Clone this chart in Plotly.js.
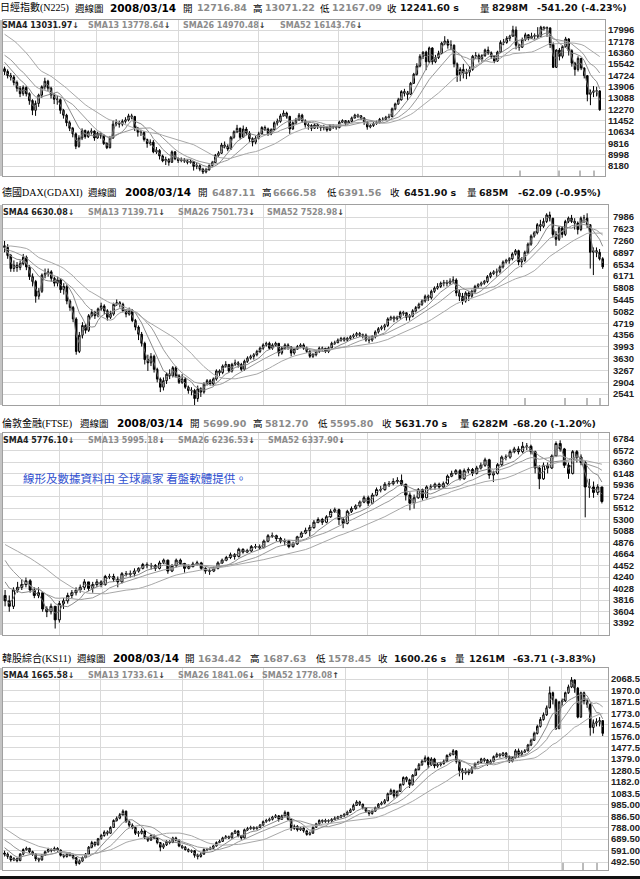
<!DOCTYPE html>
<html><head><meta charset="utf-8">
<script src="https://cdn.plot.ly/plotly-3.0.1.min.js"></script>
<style>html,body{margin:0;padding:0;background:#fff;}#chart{width:640px;height:879px;}</style>
</head><body><div id="chart"></div>
<script>
// ---------------- DATA (bi-weekly candles) ----------------
// Nikkei 225: index 0 = 2000-11-03 ... 192 = 2008-03-14
const n225Pre = [18200,18500,18400,18750,18700,19000,19800,19900,19800,20000,20300,20500,19000,17000,16800,16800,17200,17300,16400,16100,16600,16300,15800,15700,15200,15100];
const n225Open0 = 15200;
const n225Close = [15000,14700,14600,14200,13790,13400,13850,13400,12900,12200,
12700,13300,13900,14300,13800,13300,13000,12970,12200,11850,
11300,10900,10500,9600,10200,10750,10300,10650,10700,10200,
10540,10400,9800,9500,10200,11200,11300,11200,11400,11500,
11800,11750,10900,10620,10600,10100,9800,9900,9200,9300,
8900,8550,8650,8450,9200,8700,8580,8600,8550,8450,
8500,8150,8200,7950,7750,7900,8200,8420,8950,9100,
9700,9600,9400,10250,10650,10900,10250,10850,10560,10150,
9900,10200,10500,10960,10850,10500,10800,11300,11400,11800,
12000,11760,10850,11300,11500,11850,11450,11150,11100,10900,
11150,11000,10950,11000,10770,11100,11000,10950,11350,11450,
11250,11400,11650,11850,11800,11650,11350,11000,11100,11250,
11300,11550,11550,11700,11750,12300,12650,12950,13550,13450,
13350,14150,14800,15400,16100,16400,15700,16700,15700,16000,
16300,17050,17200,16900,16900,15550,14750,15150,14850,14950,
15150,16100,16150,15900,16150,16550,16350,16100,15750,16400,
17100,17100,17400,17550,18000,16900,16750,17300,17650,17400,
17550,17600,17550,18200,18100,18150,16950,15300,16550,16100,
16800,17350,16500,15600,15150,15950,15250,14700,13350,13500,
13600,13600,12241.6];
const n225High = [15350,15150,14900,14750,14350,13950,14000,13950,13500,13000,
12900,13400,14000,14550,14400,13900,13450,13250,13050,12300,
11950,11450,11000,10600,10400,10900,10800,10750,10900,10750,
10650,10650,10450,9900,10350,11500,11550,11450,11550,11700,
11950,11950,11800,11000,10800,10700,10150,10100,10050,9550,
9400,9000,8850,8750,9300,9250,8800,8800,8750,8650,
8650,8550,8400,8300,8050,8050,8300,8550,9050,9250,
9850,9950,9750,10350,10750,11150,10950,11100,11000,10700,
10250,10350,10650,11050,11100,10950,10900,11400,11600,11950,
12200,12100,11800,11400,11650,12000,11950,11550,11300,11200,
11250,11250,11100,11150,11050,11200,11200,11100,11450,11550,
11500,11500,11750,11950,11950,11850,11700,11400,11200,11350,
11450,11650,11700,11800,11950,12400,12750,13100,13650,13750,
13600,14250,14900,15600,16250,16450,16500,16800,16750,16200,
16500,17150,17550,17350,17250,16950,15650,15300,15550,15200,
15400,16200,16400,16300,16250,16650,16800,16450,16150,16500,
17250,17350,17550,17650,18300,18250,17000,17450,17800,17700,
17800,17750,18200,18300,18250,18250,18100,17100,16600,16700,
16900,17500,17400,16600,15700,16100,15950,15300,14750,13700,
13950,13900,13650];
const n225Low = [14750,14500,14350,14000,13550,13150,13250,13200,12600,11850,
11800,12450,13100,13700,13600,13050,12650,12600,11950,11600,
11050,10700,10250,9400,9500,10050,10150,10200,10450,10000,
10150,10150,9700,9400,9450,10150,11050,10950,11050,11250,
11400,11550,10700,10300,10350,9950,9500,9650,9100,9050,
8650,8450,8250,8200,8400,8600,8400,8450,8400,8300,
8350,7850,7950,7800,7600,7650,7850,8150,8400,8850,
9050,9450,9250,9350,10150,10550,10100,10200,10400,9900,
9600,9750,10100,10450,10700,10350,10400,10700,11100,11300,
11750,11600,10500,10800,11200,11450,11300,10950,10800,10700,
10850,10850,10700,10750,10650,10700,10850,10800,10900,11300,
11100,11200,11350,11600,11650,11500,11150,10800,10900,11000,
11150,11250,11400,11500,11600,11700,12200,12600,12900,13200,
12950,13300,14100,14700,15300,15900,15100,15600,15500,15600,
15900,16250,16900,16650,16550,15300,14250,14300,14500,14450,
14650,15050,15900,15650,15700,16050,16200,15900,15600,15700,
16350,16900,17000,17200,17500,16600,16500,16700,17200,17250,
17350,17350,17400,17500,17950,17500,16700,15250,15250,15800,
15950,16700,16150,15350,14700,15000,15100,14500,12850,12570,
13150,13200,12167];
const n225Ticks = ['17996','17178','16360','15542','14724','13906','13088','12270','11452','10634','9816','8998','8180'];
const n225Quote = ['12716.84','13071.22','12167.09','12241.60','8298M','-541.20 (-4.23%)'];
const n225SmaVal = ['13031.97','13778.64','14970.48','16143.76'];
const n225SmaDir = ['↓','↓','↓','↓'];

// DAX: same dates as Nikkei
const daxPre = [5700,5900,6200,6600,6950,6900,7000,7200,7500,7700,7900,7600,7400,7300,7100,7000,6900,6950,7200,7300,7200,7300,6900,6700,6600,7000];
const daxOpen0 = 7100;
const daxClose = [7050,6800,6400,6500,6430,6550,6750,6450,6150,6000,
5550,5700,6200,6250,6300,6100,5950,6050,5750,5850,
5400,5200,4850,3850,4350,4650,4500,4950,5050,4950,
5160,5250,5100,4900,5000,5300,5350,5300,5100,5000,
5100,4800,4600,4380,4100,3600,3500,3700,3300,3000,
2750,2950,3150,3100,3350,3100,2900,3000,2750,2650,
2650,2400,2700,2600,2850,2950,2850,3000,3250,3200,
3400,3450,3250,3450,3500,3450,3300,3550,3650,3700,
3750,3850,3950,4050,4100,3950,4050,4100,3800,3950,
4050,3990,3800,3920,4000,4050,3950,3850,3700,3750,
3850,3950,3950,3850,3960,4100,4120,4200,4250,4200,
4250,4300,4350,4400,4350,4350,4200,4200,4300,4450,
4550,4600,4650,4850,4900,4850,4900,5050,5040,4900,
4930,5100,5200,5300,5400,5550,5500,5700,5800,5850,
5950,5970,5950,6010,6050,5650,5550,5400,5650,5550,
5700,5850,5900,5950,6000,6150,6250,6300,6300,6450,
6600,6650,6700,6850,6950,6600,6650,6900,7150,7400,
7500,7750,7700,7850,8050,7950,7450,7300,7650,7450,
7850,7950,7850,7800,7600,7950,7950,7750,6900,6950,
6900,6700,6451.9];
const daxHigh = [7250,7150,6850,6650,6600,6650,6850,6800,6500,6250,
6050,5800,6250,6400,6400,6350,6150,6150,6100,5950,
5900,5450,5250,4900,4450,4750,4700,5000,5150,5100,
5200,5350,5300,5150,5100,5350,5450,5400,5350,5150,
5200,5150,4850,4650,4450,4150,3750,3800,3750,3350,
3050,3050,3200,3300,3400,3400,3150,3150,3050,2800,
2750,2700,2800,2750,2900,3000,3000,3050,3300,3300,
3450,3550,3450,3500,3600,3550,3500,3600,3700,3750,
3800,3900,4000,4100,4150,4150,4100,4150,4100,4000,
4100,4100,4000,3950,4050,4100,4100,4000,3900,3800,
3900,4000,4000,3950,4000,4150,4180,4250,4300,4300,
4300,4350,4400,4450,4450,4400,4400,4300,4350,4500,
4600,4650,4700,4900,4950,4950,4950,5100,5100,5050,
5000,5150,5250,5350,5450,5600,5600,5750,5850,5950,
6000,6050,6050,6100,6160,6100,5750,5650,5700,5700,
5750,5900,5950,6000,6050,6200,6300,6350,6400,6500,
6650,6700,6750,6900,7000,6980,6750,6950,7200,7450,
7550,7800,7900,7950,8100,8150,7950,7550,7700,7700,
7900,8000,8050,7950,7850,8000,8050,8100,7750,7050,
7050,7000,6750];
const daxLow = [6900,6700,6300,6300,6300,6350,6500,6350,6050,5850,
5350,5450,5650,6100,6150,6000,5850,5850,5650,5600,
5300,5100,4750,3750,3800,4250,4400,4450,4900,4850,
4900,5100,5000,4800,4850,4950,5250,5200,5050,4900,
4950,4750,4500,4200,4000,3450,3250,3400,3200,2900,
2600,2650,2850,3000,3050,3050,2850,2850,2700,2550,
2500,2200,2300,2450,2550,2800,2800,2800,2950,3100,
3150,3350,3200,3200,3400,3350,3250,3250,3500,3600,
3600,3700,3800,3900,4000,3900,3900,4000,3700,3750,
3900,3900,3700,3750,3900,3950,3900,3800,3650,3650,
3700,3800,3850,3800,3800,3950,4050,4100,4150,4150,
4150,4200,4250,4300,4300,4250,4150,4100,4150,4250,
4400,4500,4500,4600,4800,4750,4800,4850,4950,4800,
4800,4900,5050,5150,5250,5350,5400,5450,5650,5750,
5800,5850,5850,5900,5950,5550,5400,5290,5350,5400,
5500,5650,5800,5850,5900,5950,6100,6200,6150,6250,
6400,6550,6550,6650,6800,6500,6440,6600,6850,7100,
7350,7450,7550,7650,7800,7850,7350,7100,7250,7350,
7400,7800,7800,7600,7450,7550,7800,7650,6400,6200,
6750,6650,6390];
const daxTicks = ['7986','7623','7260','6897','6534','6171','5808','5445','5082','4719','4356','3993','3630','3267','2904','2541'];
const daxQuote = ['6487.11','6666.58','6391.56','6451.90','685M','-62.09 (-0.95%)'];
const daxSmaVal = ['6630.08','7139.71','7501.73','7528.98'];
const daxSmaDir = ['↓','↓','↓','↓'];

// FTSE: index 0 = 2002-09-20 ... 143 = 2008-03-14
const ftsePre = [4800,4900,5000,5100,5200,5150,5200,5217,5150,5100,5050,5100,5250,5270,5200,5150,5100,5050,4900,4650,4500,4200,4300,4250,4100,3900];
const ftseOpen0 = 3900;
const ftseClose = [3800,3700,4000,4050,4100,4170,4000,3900,3950,3650,
3600,3700,3450,3750,3800,3900,3950,4000,4050,4150,
4030,4100,4150,4100,4250,4250,4200,4150,4300,4290,
4300,4350,4400,4470,4450,4450,4400,4500,4550,4350,
4450,4550,4490,4400,4430,4480,4500,4400,4350,4350,
4400,4500,4550,4600,4650,4620,4750,4700,4720,4800,
4800,4780,4900,5000,5000,4950,4900,4900,4800,4850,
4980,5050,5100,5150,5250,5300,5250,5350,5450,5480,
5300,5230,5450,5500,5550,5620,5700,5600,5750,5850,
5850,5950,5960,6000,6020,5950,5750,5600,5700,5850,
5700,5900,5900,5950,5900,5960,6100,6150,6200,6050,
6200,6220,6150,6250,6300,6400,6120,6150,6310,6450,
6450,6550,6600,6550,6650,6650,6550,6250,6050,6300,
6250,6470,6700,6600,6300,6150,6550,6450,6350,5900,
5900,5800,5900,5631.7];
const ftseHigh = [4000,3900,4050,4150,4200,4230,4200,4050,4050,3950,
3700,3750,3700,3800,3850,3950,4000,4050,4100,4200,
4150,4150,4200,4180,4280,4300,4300,4250,4330,4350,
4360,4400,4420,4500,4510,4500,4480,4540,4580,4560,
4480,4580,4580,4500,4470,4520,4540,4520,4420,4400,
4430,4530,4580,4630,4690,4680,4780,4770,4760,4830,
4850,4840,4930,5030,5060,5020,4980,4950,4920,4890,
5000,5080,5150,5200,5290,5340,5330,5380,5490,5520,
5500,5340,5480,5540,5580,5650,5740,5740,5790,5890,
5920,5990,6010,6060,6080,6130,5960,5800,5760,5880,
5870,5930,5950,5980,5980,6000,6130,6200,6230,6230,
6240,6260,6250,6290,6350,6440,6420,6200,6340,6480,
6500,6590,6640,6650,6730,6710,6680,6570,6300,6350,
6350,6500,6740,6760,6620,6350,6580,6580,6500,6380,
6050,6000,5950,5900];
const ftseLow = [3700,3600,3650,3950,4000,4050,3950,3850,3850,3600,
3500,3550,3290,3400,3650,3750,3850,3900,3950,4000,
3980,3950,4050,4050,4080,4200,4150,4050,4120,4250,
4230,4250,4320,4380,4400,4380,4350,4380,4480,4300,
4330,4420,4460,4320,4380,4420,4450,4370,4300,4280,
4330,4380,4480,4530,4570,4560,4600,4670,4680,4700,
4760,4740,4770,4880,4960,4900,4860,4820,4770,4780,
4830,4960,5030,4990,5130,5230,5200,5230,5330,5420,
5200,5140,5210,5420,5480,5520,5600,5550,5580,5730,
5800,5830,5900,5930,5960,5920,5650,5470,5500,5680,
5650,5690,5840,5850,5860,5880,5940,6080,6120,6020,
6030,6150,6100,6130,6220,6270,6050,5990,6130,6280,
6390,6420,6520,6500,6520,6580,6500,6150,5860,6030,
6150,6230,6450,6550,6250,6050,6130,6350,6300,5340,
5700,5700,5750,5596];
const ftseTicks = ['6784','6572','6360','6148','5936','5724','5512','5300','5088','4876','4664','4452','4240','4028','3816','3604','3392'];
const ftseQuote = ['5699.90','5812.70','5595.80','5631.70','6282M','-68.20 (-1.20%)'];
const ftseSmaVal = ['5776.10','5995.18','6236.53','6337.90'];
const ftseSmaDir = ['↓','↓','↓','↓'];

// KOSPI: same dates as Nikkei
const ksPre = [960,990,1000,1028,1000,940,900,850,830,860,870,800,725,700,731,780,821,780,740,705,690,688,650,613,570,540];
const ksOpen0 = 570;
const ksClose = [560,540,510,520,504,560,600,610,580,560,
520,510,550,580,600,590,610,595,550,540,
560,550,530,480,500,530,560,620,660,640,
693,720,750,740,790,850,870,900,930,840,
810,790,740,740,760,700,680,720,700,660,
620,640,670,660,700,680,630,620,600,585,
590,550,540,560,600,600,610,630,660,670,
700,710,700,740,760,720,700,770,780,790,
780,790,810,840,850,860,880,890,860,890,
920,860,780,800,770,785,760,730,740,790,
820,850,840,850,845,860,870,880,890,900,
920,940,980,1010,990,960,930,910,930,960,
990,1000,1020,1080,1110,1060,1100,1160,1220,1200,
1160,1240,1290,1330,1360,1390,1330,1380,1320,1330,
1340,1360,1410,1420,1450,1360,1280,1260,1280,1260,
1300,1340,1350,1380,1370,1340,1360,1400,1420,1410,
1430,1400,1360,1390,1450,1420,1440,1450,1500,1540,
1600,1660,1720,1760,1820,1950,1890,1640,1870,1880,
1950,2000,2060,1990,1740,1950,1880,1850,1650,1690,
1700,1710,1600.26];
const ksHigh = [590,575,550,535,530,570,610,625,615,590,
565,530,560,590,615,610,625,620,600,560,
570,575,555,535,515,540,570,630,675,670,
700,735,765,765,800,860,885,915,945,935,
850,825,795,760,780,765,710,730,730,705,
665,655,680,680,710,710,685,640,630,610,
600,595,565,575,610,615,625,640,670,685,
710,725,720,750,770,765,725,780,795,805,
800,800,820,850,865,875,890,905,895,900,
936,925,865,815,810,795,790,770,755,800,
830,860,860,865,860,870,885,890,900,915,
935,955,995,1025,1020,995,965,940,945,970,
1000,1015,1035,1090,1125,1115,1110,1170,1230,1230,
1210,1250,1300,1345,1375,1410,1400,1395,1390,1345,
1355,1375,1420,1435,1465,1455,1370,1300,1300,1295,
1315,1350,1365,1390,1390,1380,1375,1410,1435,1430,
1440,1440,1410,1400,1465,1470,1455,1465,1510,1555,
1615,1675,1740,1780,1840,2004,1960,1900,1880,1900,
1960,2020,2085,2065,2000,1960,1960,1900,1860,1720,
1730,1740,1715];
const ksLow = [540,520,495,500,490,500,550,590,570,545,
500,490,505,545,575,575,585,580,540,525,
530,540,515,460,470,495,525,555,610,625,
635,685,710,720,735,785,840,860,890,830,
790,775,725,710,730,690,665,675,690,645,
585,605,630,645,655,670,620,605,590,575,
570,530,515,530,555,585,595,605,625,655,
665,695,690,695,735,705,685,695,760,770,
765,770,785,805,830,840,850,870,840,855,
885,850,760,770,755,760,745,719,720,735,
785,815,825,830,830,840,855,860,870,880,
895,915,935,975,975,945,915,890,900,925,
955,980,990,1015,1070,1040,1050,1095,1150,1180,
1130,1150,1235,1280,1320,1350,1300,1320,1300,1305,
1315,1330,1355,1400,1410,1340,1230,1200,1245,1240,
1250,1290,1330,1340,1350,1320,1330,1350,1390,1390,
1400,1380,1345,1350,1385,1390,1400,1430,1445,1490,
1535,1590,1650,1710,1750,1815,1850,1630,1640,1840,
1870,1940,1990,1950,1730,1735,1850,1820,1580,1600,
1660,1660,1578];
const ksTicks = ['2068.5','1970.0','1871.5','1773.0','1674.5','1576.0','1477.5','1379.0','1280.5','1182.0','1083.5','985.00','886.50','788.00','689.50','591.00','492.50'];
const ksQuote = ['1634.42','1687.63','1578.45','1600.26','1261M','-63.71 (-3.83%)'];
const ksSmaVal = ['1665.58','1733.61','1841.06','1778.08'];
const ksSmaDir = ['↓','↓','↓','↑'];

const smaNames = ['SMA4','SMA13','SMA26','SMA52'];
const smaPeriods = [2,7,13,26]; // in bi-weekly candles (4,13,26,52 weeks)
const dateText = '2008/03/14';
const noteText = '線形及數據資料由 全球贏家 看盤軟體提供。';

// ---------------- LAYOUT SPECS (pixel positions) ----------------
const W = 640, H = 879;
const panels = [
  {name:'日經指數(N225)', pre:n225Pre, o0:n225Open0, c:n225Close, h:n225High, l:n225Low, ticks:n225Ticks, quote:n225Quote, smaV:n225SmaVal, smaD:n225SmaDir,
   top:20, bottom:176, left:3, right:605, ta:[30,166], standoff:0, titleY:8, smaY:26,
   tx:[0,75,110,183,197,253,265,320,332,387,400,480,492,537], sx:[2,88,183,280],
   vpx:[54,96,178,258,338,422,503,557], tpx:[520,559,580,594]},
  {name:'德國DAX(GDAXI)', pre:daxPre, o0:daxOpen0, c:daxClose, h:daxHigh, l:daxLow, ticks:daxTicks, quote:daxQuote, smaV:daxSmaVal, smaD:daxSmaDir,
   top:205, bottom:405, left:3, right:608, ta:[217,394], standoff:2, titleY:192, smaY:212,
   tx:[2,88,125,198,212,262,273,327,338,390,404,467,479,518], sx:[3,88,178,267],
   vpx:[59,100,182,263,345,427,508], tpx:[525,565,587,600]},
  {name:'倫敦金融(FTSE)', pre:ftsePre, o0:ftseOpen0, c:ftseClose, h:ftseHigh, l:ftseLow, ticks:ftseTicks, quote:ftseQuote, smaV:ftseSmaVal, smaD:ftseSmaDir,
   top:433, bottom:635, left:3, right:609, ta:[439,623], standoff:1, titleY:423, smaY:440,
   tx:[2,80,117,190,203,253,265,318,330,382,395,460,472,513], sx:[3,88,178,268],
   vpx:[59,102,147,203,258,310,367,420,475,498,530,552,580,598], tpx:[]},
  {name:'韓股綜合(KS11)', pre:ksPre, o0:ksOpen0, c:ksClose, h:ksHigh, l:ksLow, ticks:ksTicks, quote:ksQuote, smaV:ksSmaVal, smaD:ksSmaDir,
   top:668, bottom:870, left:3, right:608, ta:[679,862], standoff:0, titleY:658, smaY:675,
   tx:[2,77,113,185,198,250,263,316,328,378,394,455,469,513], sx:[3,88,178,262],
   vpx:[59,100,182,263,345,427,508,561], tpx:[563,583,597]}
];

const PX = x => x / W;
const PY = y => 1 - y / H;
const traces = [], annotations = [], shapes = [];
const layout = {
  width: W, height: H, margin: {l:0, r:0, t:0, b:0},
  paper_bgcolor: '#fff', plot_bgcolor: '#fff', showlegend: false, hovermode: false,
  annotations, shapes
};
const smaColors = ['#6e6e6e','#8a8a8a','#9a9a9a','#a8a8a8'];
const CJK = 'Noto Sans CJK TC, Noto Sans CJK SC, sans-serif';
const NUM = 'DejaVu Sans, Verdana, sans-serif';
const TICK = 'Liberation Sans, Arial, sans-serif';

function ann(text, x, y, size, color, family) {
  annotations.push({text, x: PX(x - 1), y: PY(y), xref:'paper', yref:'paper', xanchor:'left', yanchor:'middle',
    showarrow:false, borderpad:0, font:{size, color, family}});
}

panels.forEach((p, k) => {
  const xa = k === 0 ? 'x' : 'x' + (k + 1);
  const ya = k === 0 ? 'y' : 'y' + (k + 1);
  const N = p.c.length;
  const xs = p.c.map((_, i) => i);
  const open = p.c.map((v, i) => i === 0 ? p.o0 : p.c[i - 1]);
  const high = p.h.map((v, i) => Math.max(v, open[i], p.c[i]));
  const low = p.l.map((v, i) => Math.min(v, open[i], p.c[i]));

  const x0 = -0.5, x1 = N - 1 + 1.7;
  const ppu = (p.right - p.left) / (x1 - x0);
  const idx = px => (px - p.left) / ppu + x0;

  const vTop = parseFloat(p.ticks[0]), vBot = parseFloat(p.ticks[p.ticks.length - 1]);
  const per = (vTop - vBot) / (p.ta[1] - p.ta[0]);
  const yr = [vBot - (p.bottom - p.ta[1]) * per, vTop + (p.ta[0] - p.top) * per];

  traces.push({type:'candlestick', x: xs, open, high, low, close: p.c, xaxis: xa, yaxis: ya,
    increasing:{line:{color:'#000', width:1}, fillcolor:'#fff'},
    decreasing:{line:{color:'#000', width:1}, fillcolor:'#000'},
    whiskerwidth:0, hoverinfo:'skip', showlegend:false});

  const all = p.pre.concat(p.c);
  smaPeriods.forEach((per2, m) => {
    const ys = xs.map(i => {
      const e = i + p.pre.length, s = Math.max(0, e - per2 + 1);
      let sum = 0; for (let t = s; t <= e; t++) sum += all[t];
      return sum / (e - s + 1);
    });
    traces.push({type:'scatter', mode:'lines', x: xs, y: ys, xaxis: xa, yaxis: ya,
      line:{color: smaColors[m], width:1}, hoverinfo:'skip', showlegend:false});
  });

  const xKey = k === 0 ? 'xaxis' : 'xaxis' + (k + 1);
  const yKey = k === 0 ? 'yaxis' : 'yaxis' + (k + 1);
  layout[xKey] = {domain:[PX(p.left), PX(p.right)], range:[x0, x1], anchor: ya,
    tickmode:'array', tickvals: p.vpx.map(idx), showticklabels:false, ticks:'',
    showgrid:true, gridcolor:'#d9d9d9', gridwidth:1, zeroline:false,
    showline:true, mirror:true, linecolor:'#a0a0a0', linewidth:1,
    rangeslider:{visible:false}, fixedrange:true};
  layout[yKey] = {domain:[PY(p.bottom), PY(p.top)], range: yr, anchor: xa, side:'right',
    tickmode:'array', tickvals: p.ticks.map(parseFloat), ticktext: p.ticks.slice(),
    ticks:'', ticklabelstandoff: p.standoff,
    tickfont:{family: TICK, size:9.5, color:'#222', weight:'bold'},
    showgrid:true, gridcolor:'#d9d9d9', gridwidth:1, zeroline:false,
    showline:true, mirror:true, linecolor:'#a0a0a0', linewidth:1, fixedrange:true};

  p.tpx.forEach(px => shapes.push({type:'line', xref: xa, yref: ya + ' domain',
    x0: idx(px), x1: idx(px), y0: 0, y1: 0.035, line:{color:'#777', width:1}}));
  shapes.push({type:'rect', xref:'paper', yref:'paper', x0:0, x1:PX(2), y0:PY(p.bottom), y1:PY(p.top),
    fillcolor:'#c4c4c4', line:{width:0}});

  const t = p.tx, y = p.titleY, q = p.quote;
  ann(p.name, t[0], y, 10, '#000', 'Liberation Serif, ' + CJK);
  ann('週線圖', t[1], y, 9.5, '#000', CJK);
  ann('<b>' + dateText + '</b>', t[2], y, 10.5, '#000', NUM);
  ann('開', t[3], y, 9.5, '#000', CJK);
  ann('<b>' + q[0] + '</b>', t[4], y, 9.5, '#8a8a8a', NUM);
  ann('高', t[5], y, 9.5, '#000', CJK);
  ann('<b>' + q[1] + '</b>', t[6], y, 9.5, '#8a8a8a', NUM);
  ann('低', t[7], y, 9.5, '#000', CJK);
  ann('<b>' + q[2] + '</b>', t[8], y, 9.5, '#8a8a8a', NUM);
  ann('收', t[9], y, 9.5, '#000', CJK);
  ann('<b>' + q[3] + ' s</b>', t[10], y, 9.5, '#111', NUM);
  ann('量', t[11], y, 9.5, '#000', CJK);
  ann('<b>' + q[4] + '</b>', t[12], y, 9.5, '#111', NUM);
  ann('<b>' + q[5] + '</b>', t[13], y, 9.5, '#111', NUM);

  p.sx.forEach((sx, m) => {
    const col = m === 0 ? '#222' : '#8c8c8c';
    ann('<b>' + smaNames[m] + ' ' + p.smaV[m] + '<span style="color:#333">' + p.smaD[m] + '</span></b>', sx, p.smaY, 8, col, NUM);
  });
});

ann(noteText, 23, 478, 11.5, '#2f4fcf', CJK);
shapes.push({type:'rect', xref:'paper', yref:'paper', x0:0, x1:1, y0:0, y1:PY(876), fillcolor:'#111', line:{width:0}});

Plotly.newPlot('chart', traces, layout, {staticPlot:true, displayModeBar:false});
</script>
</body></html>
